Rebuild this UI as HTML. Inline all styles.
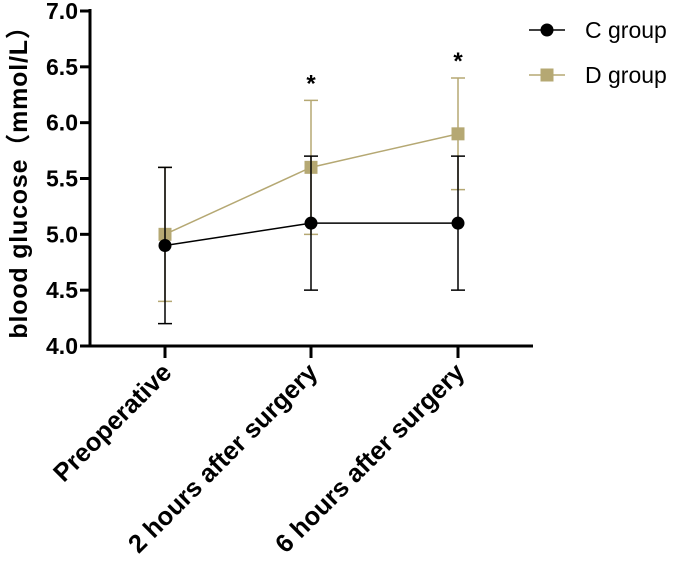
<!DOCTYPE html>
<html><head><meta charset="utf-8"><style>
body{margin:0;background:#fff}
svg{display:block;font-family:"Liberation Sans","Noto Sans CJK SC",sans-serif}
</style></head><body>
<svg id="chart" width="685" height="564"></svg>
<script>
const categories=["Preoperative","2 hours after surgery","6 hours after surgery"];
const cMeans=[4.9,5.1,5.1];
const cErr=[0.7,0.6,0.6];
const dMeans=[5.0,5.6,5.9];
const dErr=[0.6,0.6,0.5];
const yTicks=["4.0","4.5","5.0","5.5","6.0","6.5","7.0"];
const stars=[null,"*","*"];

const NS="http://www.w3.org/2000/svg";
const svg=document.getElementById('chart');
const xPos=[165,311,458];
function xs(i){return xPos[i];}
function ys(v){return 346-(v-4)*(335/3);}
function el(t,a,p){const e=document.createElementNS(NS,t);for(const k in a)e.setAttribute(k,a[k]);(p||svg).appendChild(e);return e;}
const gold="#b5a873";

let a=el('line',{x1:90,y1:9,x2:90,y2:347.5,stroke:'#000','stroke-width':3});


a=el('line',{x1:88.5,y1:346,x2:533,y2:346,stroke:'#000','stroke-width':3});


yTicks.forEach(t=>{
  const y=ys(parseFloat(t));
  const l=el('line',{x1:80,y1:y,x2:90,y2:y,stroke:'#000','stroke-width':3});
  
  
  const tx=el('text',{x:78,y:y+8,'text-anchor':'end','font-size':23,'font-weight':'bold'});
  tx.textContent=t;
  
  
});
categories.forEach((c,i)=>{
  const x=xs(i);
  const l=el('line',{x1:x,y1:346,x2:x,y2:358,stroke:'#000','stroke-width':3});
  
  
  const tx=el('text',{x:x+8,y:374,'text-anchor':'end','font-size':25.5,'font-weight':'bold',transform:`rotate(-45 ${x+8} 374)`});
  tx.textContent=c;
  
  
});
const yt=el('text',{x:0,y:0,'text-anchor':'middle','font-size':25,'font-weight':'bold','letter-spacing':'0.8',transform:'translate(27 176) rotate(-90)'});
yt.textContent="blood glucose（mmol/L）";



function series(means,err,color,shape,name){
  means.forEach((m,i)=>{
    const x=xs(i);
    const e=el('path',{d:`M${x} ${ys(m-err[i])}V${ys(m+err[i])}M${x-7} ${ys(m-err[i])}h14M${x-7} ${ys(m+err[i])}h14`,stroke:color,'stroke-width':1.5,fill:'none'});
    
    
  });
  const ln=el('polyline',{points:means.map((m,i)=>xs(i)+','+ys(m)).join(' '),stroke:color,'stroke-width':1.5,fill:'none'});
  
  
  means.forEach((m,i)=>{
    let p;
    if(shape==='circle')p=el('circle',{cx:xs(i),cy:ys(m),r:6.5,fill:color});
    else p=el('rect',{x:xs(i)-6.5,y:ys(m)-6.5,width:13,height:13,fill:color});
    
    
  });
}
series(dMeans,dErr,gold,'square','d-group');
series(cMeans,cErr,'#000','circle','c-group');

stars.forEach((s,i)=>{
  if(!s)return;
  const top=Math.max(cMeans[i]+cErr[i],dMeans[i]+dErr[i]);
  const t=el('text',{x:xs(i),y:ys(top)-9,'text-anchor':'middle','font-size':24,'font-weight':'bold'});
  t.textContent=s;
  
  
});

[["C group",'#000','circle',30],["D group",gold,'square',75]].forEach(([lab,col,sh,y])=>{
  const g=el('g',{});
  
  
  el('line',{x1:529,y1:y,x2:565,y2:y,stroke:col,'stroke-width':1.5},g);
  if(sh==='circle')el('circle',{cx:547,cy:y,r:6.5,fill:col},g);
  else el('rect',{x:540.5,y:y-6.5,width:13,height:13,fill:col},g);
  const t=el('text',{x:585,y:y+8,'font-size':23},g);
  t.textContent=lab;
});
</script>
</body></html>
